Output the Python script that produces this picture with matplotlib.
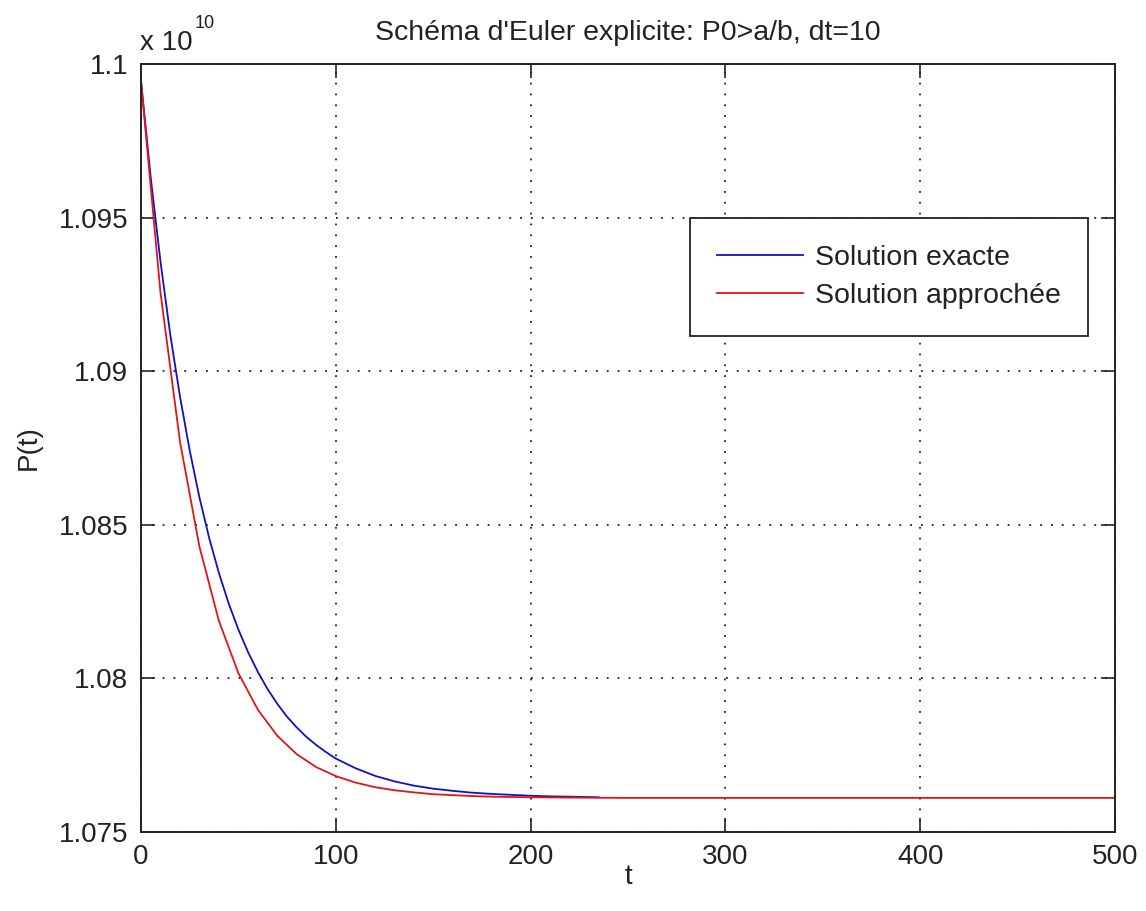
import matplotlib.pyplot as plt
import numpy as np

plt.rcParams['font.family'] = ['Liberation Sans', 'DejaVu Sans']

# exact solution (values in units of 1e10)
t_exact = [0, 5, 10, 15, 20, 25, 30, 35, 40, 45, 50, 55, 60, 65, 70, 75, 80,
           85, 90, 95, 100, 110, 120, 130, 140, 150, 160, 170, 180, 190, 200,
           210, 220, 235]
p_exact = [1.09945, 1.09630, 1.09357, 1.09120, 1.08918, 1.08742, 1.08589,
           1.08457, 1.08343, 1.08244, 1.08159, 1.08085, 1.08021, 1.07965,
           1.07917, 1.07875, 1.07840, 1.07809, 1.07783, 1.07760, 1.07739,
           1.07708, 1.07683, 1.07665, 1.07651, 1.07641, 1.07634, 1.07628,
           1.07624, 1.07621, 1.07618, 1.07616, 1.07615, 1.07613]

# Euler scheme, dt=10
t_euler = [0, 10, 20, 30, 40, 50, 60, 70, 80, 90, 100, 110, 120, 130, 140,
           150, 160, 170, 180, 190, 200, 220, 250, 300, 350, 400, 450, 500]
p_euler = [1.09945, 1.09256, 1.08771, 1.08429, 1.08187, 1.08017, 1.07898,
           1.07813, 1.07753, 1.07711, 1.07682, 1.07661, 1.07646, 1.07636,
           1.07629, 1.07623, 1.07620, 1.07617, 1.07615, 1.07614, 1.07613,
           1.07612, 1.07611, 1.07611, 1.07611, 1.07611, 1.07611, 1.07611]

yticks = [1.075, 1.08, 1.085, 1.09, 1.095, 1.1]
ytick_labels = ['1.075', '1.08', '1.085', '1.09', '1.095', '1.1']
xticks = [0, 100, 200, 300, 400, 500]

fs = 20
fig = plt.figure(figsize=(11.46, 9.11), dpi=100)
ax = fig.add_axes([141 / 1146, 1 - 832 / 911, (1115 - 141) / 1146, (832 - 64) / 911])

ax.plot(t_exact, p_exact, color='#1010c8', lw=1.3, label='Solution exacte')
ax.plot(t_euler, p_euler, color='#e01515', lw=1.3, label='Solution approchée')

ax.set_xlim(0, 500)
ax.set_ylim(1.075, 1.1)
ax.set_xticks(xticks)
ax.set_yticks(yticks)
ax.set_yticklabels(ytick_labels)
ax.tick_params(direction='in', length=10, width=1.2, top=True, right=True,
               labelsize=fs, pad=9, colors='#222222')
ax.grid(True, color='#222222', linestyle=(0, (1, 5)), linewidth=1.3)
for s in ax.spines.values():
    s.set_linewidth(1.4)
    s.set_color('#222222')

ax.set_xlabel('t', fontsize=fs, labelpad=-5, color='#222222')
ax.set_ylabel('P(t)', fontsize=fs, labelpad=12, color='#222222')
ax.set_title("Schéma d'Euler explicite: P0>a/b, dt=10", fontsize=fs + 0.5, pad=17,
             color='#222222')

# multiplier drawn like MATLAB: "x 10" with a raised exponent
fig.text(140 / 1146, 1 - 50 / 911, 'x 10', fontsize=fs, color='#222222',
         ha='left', va='baseline')
fig.text(195 / 1146, 1 - 28 / 911, '10', fontsize=13, color='#222222',
         ha='left', va='baseline')

leg = ax.legend(loc='upper right', bbox_to_anchor=(0.972, 0.80), fontsize=fs + 0.5,
                fancybox=False, framealpha=1, edgecolor='#222222',
                borderaxespad=0, borderpad=0.95, labelspacing=0.43,
                handlelength=3.0, handletextpad=0.42)
leg.get_frame().set_linewidth(1.3)
for txt in leg.get_texts():
    txt.set_color('#222222')

fig.savefig('out.png', dpi=100)
